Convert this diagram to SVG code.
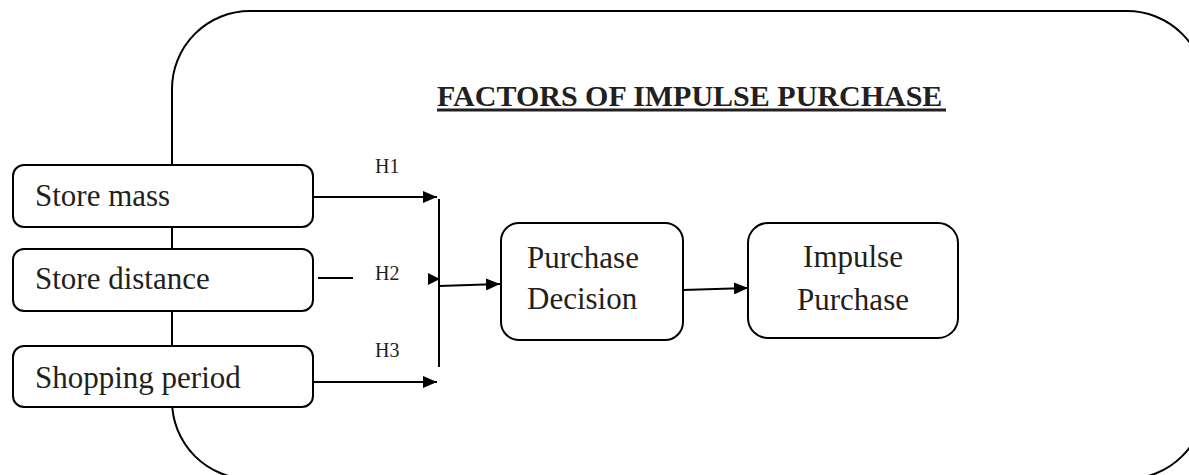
<svg xmlns="http://www.w3.org/2000/svg" width="1189" height="475" viewBox="0 0 1189 475">
<style>
.box{fill:#fff;stroke:#000;stroke-width:2}
.frame{fill:none;stroke:#000;stroke-width:2}
.t{font-family:"Liberation Serif","Times New Roman",serif;font-size:31px;fill:#231f20}
.h{font-family:"Liberation Serif","Times New Roman",serif;font-size:20px;fill:#231f20}
.title{font-family:"Liberation Serif","Times New Roman",serif;font-size:30px;font-weight:bold;fill:#231f20}
.ln{stroke:#000;stroke-width:2;fill:none}
</style>
<defs>
<marker id="ah" viewBox="0 0 14 12" refX="14" refY="6" markerWidth="14" markerHeight="12" markerUnits="userSpaceOnUse" orient="auto">
<path d="M0,0 L14,6 L0,12 Z" fill="#000"/>
</marker>
</defs>
<g id="frame">
<rect class="frame" x="172" y="11" width="1033" height="468" rx="78" ry="78"/>
<text class="title" x="437" y="106">FACTORS OF IMPULSE PURCHASE</text>
<line x1="437" y1="110" x2="946" y2="110" stroke="#231f20" stroke-width="3"/>
</g>
<g id="connectors">
<line class="ln" x1="313" y1="197" x2="437" y2="197" marker-end="url(#ah)"/>
<line class="ln" x1="318" y1="278" x2="353" y2="278"/>
<polygon points="428,273 440,279 428,285" fill="#000"/>
<line class="ln" x1="313" y1="382" x2="437" y2="382" marker-end="url(#ah)"/>
<line class="ln" x1="439" y1="199" x2="439" y2="367"/>
<line class="ln" x1="439" y1="286" x2="500" y2="284" marker-end="url(#ah)"/>
<line class="ln" x1="683" y1="290" x2="748" y2="288" marker-end="url(#ah)"/>
<text class="h" x="375" y="173">H1</text>
<text class="h" x="375" y="280">H2</text>
<text class="h" x="375" y="357">H3</text>
</g>
<g id="store-mass">
<rect class="box" x="13" y="165" width="300" height="62" rx="11"/>
<text class="t" x="35" y="206">Store mass</text>
</g>
<g id="store-distance">
<rect class="box" x="13" y="249" width="300" height="62" rx="11"/>
<text class="t" x="35" y="289">Store distance</text>
</g>
<g id="shopping-period">
<rect class="box" x="13" y="346" width="300" height="61" rx="11"/>
<text class="t" x="35" y="388">Shopping period</text>
</g>
<g id="purchase-decision">
<rect class="box" x="501" y="223" width="182" height="117" rx="18"/>
<text class="t" x="527" y="268">Purchase</text>
<text class="t" x="527" y="309">Decision</text>
</g>
<g id="impulse-purchase">
<rect class="box" x="748" y="223" width="210" height="115" rx="20"/>
<text class="t" x="853" y="267" text-anchor="middle">Impulse</text>
<text class="t" x="853" y="310" text-anchor="middle">Purchase</text>
</g>
</svg>
